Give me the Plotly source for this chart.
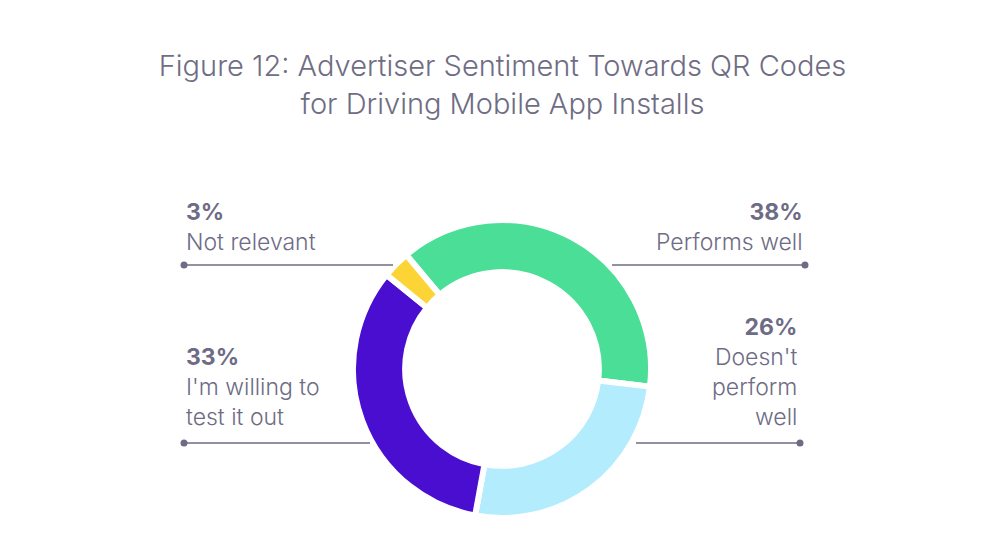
import plotly.graph_objects as go

W, H = 1005, 557

# DATA
labels = ["Performs well", "Doesn't perform well", "I'm willing to test it out", "Not relevant"]
values = [38, 26, 33, 3]
colors = ["#4ADE96", "#B3ECFD", "#4A0ED0", "#FDD435"]

TEXT = "#6E6C85"
FONT = "Inter, Lato, sans-serif"

# px helpers (margins are zero, so paper == page)
def px_x(x):
    return x / W

def px_y(y):
    return 1 - y / H

cx, cy, r = 502, 369, 149

fig = go.Figure(go.Pie(
    labels=labels,
    values=values,
    hole=0.65,
    sort=False,
    direction="clockwise",
    rotation=-40,
    marker=dict(colors=colors, line=dict(color="white", width=6)),
    textinfo="none",
    hoverinfo="label+percent",
    domain=dict(x=[px_x(cx - r), px_x(cx + r)], y=[px_y(cy + r), px_y(cy - r)]),
    showlegend=False,
))

# label blocks: (pct, text, x, y_top, anchor)
callouts = [
    ("3%", "Not relevant", 184, 196, "left"),
    ("38%", "Performs well", 805, 196, "right"),
    ("33%", "I'm willing to<br>test it out", 184, 341, "left"),
    ("26%", "Doesn't<br>perform<br>well", 800, 311, "right"),
]
for pct, txt, x, y, anchor in callouts:
    fig.add_annotation(
        x=px_x(x), y=px_y(y), xref="paper", yref="paper",
        xanchor=anchor, yanchor="top", align=anchor, showarrow=False,
        text=f"<b>{pct}</b><br>{txt}",
        font=dict(family=FONT, size=23, color=TEXT, weight=300),
    )

# leader lines with end dots: (x0, x1, y, dot_x)
leaders = [
    (184, 393, 265, 184),
    (612, 805, 265, 805),
    (184, 370, 443, 184),
    (636, 800, 443, 800),
]
for x0, x1, y, dx in leaders:
    fig.add_shape(type="line", xref="paper", yref="paper",
                  x0=px_x(x0), x1=px_x(x1), y0=px_y(y), y1=px_y(y),
                  line=dict(color=TEXT, width=1.5))
    fig.add_shape(type="circle", xref="paper", yref="paper",
                  x0=px_x(dx - 3.5), x1=px_x(dx + 3.5), y0=px_y(y + 3.5), y1=px_y(y - 3.5),
                  fillcolor=TEXT, line=dict(width=0))

fig.update_layout(
    width=W, height=H,
    margin=dict(l=0, r=0, t=0, b=0),
    paper_bgcolor="white",
    plot_bgcolor="white",
    title=dict(
        text="Figure 12: Advertiser Sentiment Towards QR Codes<br>for Driving Mobile App Installs",
        x=0.5, xanchor="center", y=px_y(76), yanchor="top",
        font=dict(family=FONT, size=29, color="#6F6D84", weight=300),
    ),
)

# drop the default 8px body margin so the figure sits at the window origin
fig.write_html("out.html", config={"displayModeBar": False},
               post_script="document.body.style.margin='0';")
